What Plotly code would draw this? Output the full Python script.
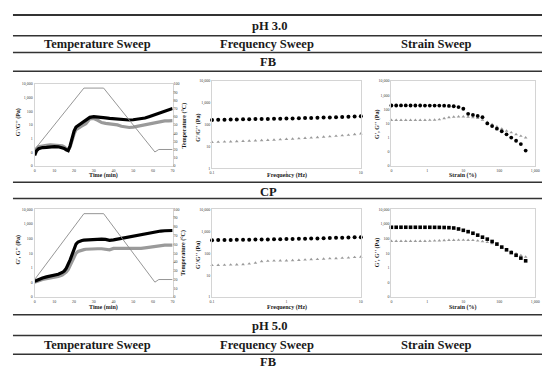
import plotly.graph_objects as go

W, H = 550, 369

# ---------------- data ----------------
time_min = [0, 1, 2, 4, 6, 8, 10, 12, 14, 15, 16, 17, 18, 19, 20, 21, 22, 23, 24, 25, 26, 28, 30,
            32, 34, 36, 38, 40, 42, 44, 46, 48, 50, 52, 54, 56, 58, 60, 62, 64, 66, 68, 70]
fb_temp_Gp = [0.06, 0.13, 0.18, 0.22, 0.23, 0.25, 0.26, 0.25, 0.22, 0.19, 0.15, 0.13, 0.3, 1.2, 3.5, 7,
              9, 11, 14, 18, 24, 36, 40, 39, 35, 33, 30, 28, 26, 24, 23, 23, 24, 26, 28, 32, 40, 50,
              62, 80, 100, 130, 160]
fb_temp_Gpp = [0.09, 0.18, 0.25, 0.3, 0.32, 0.34, 0.34, 0.33, 0.3, 0.25, 0.18, 0.14, 0.25, 0.9, 2.2, 4.5,
               6, 7, 8.5, 10, 12, 28, 30, 22, 15, 13, 12, 11, 10, 8, 7, 6.5, 7, 8, 10, 11, 13, 15, 17,
               19, 20, 20, 21]
cp_temp_Gp = [0.12, 0.14, 0.16, 0.2, 0.24, 0.27, 0.3, 0.36, 0.48, 0.6, 0.9, 1.6, 3.5, 8, 20, 42, 58,
              68, 74, 78, 80, 84, 86, 88, 90, 88, 76, 82, 92, 100, 115, 130, 150, 170, 195, 220, 245,
              270, 300, 325, 340, 350, 355]
cp_temp_Gpp = [0.105, 0.12, 0.13, 0.16, 0.18, 0.2, 0.22, 0.26, 0.32, 0.38, 0.5, 0.75, 1.4, 2.8, 6, 10,
               13, 15, 16.5, 17.5, 18.5, 19.5, 20, 20, 20, 19, 17, 21, 21, 20, 19.5, 19, 19, 19.5, 21,
               23, 25, 28, 31, 34, 35, 35, 35]
temp_time = [0, 25, 35, 61, 63, 70]
temp_profile = [20, 95, 95, 17, 20, 20]

freq_hz = [0.1, 0.121, 0.147, 0.178, 0.215, 0.261, 0.316, 0.383, 0.464, 0.562, 0.681, 0.825, 1,
           1.21, 1.47, 1.78, 2.15, 2.61, 3.16, 3.83, 4.64, 5.62, 6.81, 8.25, 10]
fb_freq_Gp = [165, 167, 170, 172, 174, 176, 178, 180, 182, 184, 186, 189, 191, 194, 197, 200, 203,
              207, 211, 215, 220, 225, 230, 237, 245]
fb_freq_Gpp = [15.8, 16.1, 16.5, 16.8, 17.2, 17.6, 18.0, 18.5, 19.0, 19.6, 20.2, 20.9, 21.6, 22.4,
               23.3, 24.2, 25.2, 26.3, 27.5, 28.8, 30.2, 31.8, 33.5, 36, 39]
cp_freq_Gp = [390, 395, 398, 400, 405, 410, 413, 416, 420, 425, 430, 435, 440, 445, 450, 458, 465,
              472, 480, 490, 500, 510, 518, 527, 535]
cp_freq_Gpp = [28, 28.5, 29, 29.5, 30, 31, 33, 36, 42, 44, 45, 46, 46, 47, 48, 50, 52, 53, 55, 57,
               58, 60, 62, 65, 68]

strain_pct = [0.1, 0.136, 0.185, 0.251, 0.341, 0.464, 0.631, 0.858, 1.17, 1.59, 2.15, 2.93, 3.98,
              5.41, 7.36, 10.0, 13.6, 18.5, 25.1, 34.1, 46.4, 63.1, 85.8, 117, 159, 215, 293, 398, 541]
fb_strain_Gp = [186, 186, 187, 187, 186, 186, 186, 185, 185, 184, 183, 180, 175, 165, 145, 110, 48,
                40, 34, 28, 10, 6.5, 4.3, 2.8, 1.7, 1.0, 0.6, 0.35, 0.12]
fb_strain_Gpp = [17, 17, 17, 17, 17, 17, 17, 17, 17.5, 18, 19, 23, 27, 29, 30, 30, 29, 27, 24, 18,
                 12.5, 8.5, 6, 4.2, 3, 2.3, 1.7, 1.3, 1.0]
cp_strain_Gp = [590, 590, 592, 592, 590, 590, 590, 588, 588, 585, 580, 570, 555, 525, 450, 365, 295,
                230, 170, 124, 91, 63, 42, 26, 17, 11, 7.2, 4.6, 3.0]
cp_strain_Gpp = [66, 66, 66, 66, 66, 66, 66, 67, 68, 70, 72, 75, 77, 78, 79, 79, 78, 76, 70, 64, 56,
                 46, 35, 26, 18, 12.6, 9.3, 7.2, 5.6]

log_ticks6 = [0.01, 0.1, 1, 10, 100, 1000, 10000]
log_text6 = ["0", "0", "1", "10", "100", "1,000", "10,000"]
log_ticks4 = [1, 10, 100, 1000, 10000]
log_text4 = ["1", "10", "100", "1,000", "10,000"]
freq_ticks = [0.1, 1, 10]
freq_text = ["0.1", "1", "10"]
strain_ticks = [0.1, 1, 10, 100, 1000]
strain_text = ["0", "1", "10", "100", "1,000"]
time_ticks = [0, 10, 20, 30, 40, 50, 60, 70]
temp_ticks = [0, 10, 20, 30, 40, 50, 60, 70, 80, 90, 100]

# ---------------- helpers ----------------
def px(x): return x / W
def py(y): return 1 - y / H

SERIF = "Liberation Serif"
BLACK = "#000000"
GREY = "#9a9a9a"
TFONT = dict(family=SERIF, size=4, color="#404040")

fig = go.Figure()

def line(x, y, xa, ya, color, width):
    fig.add_trace(go.Scatter(x=x, y=y, xaxis=xa, yaxis=ya, mode="lines",
                             line=dict(color=color, width=width), showlegend=False, hoverinfo="skip"))

def pts(x, y, xa, ya, color, symbol, size):
    fig.add_trace(go.Scatter(x=x, y=y, xaxis=xa, yaxis=ya, mode="markers", cliponaxis=False,
                             marker=dict(color=color, symbol=symbol, size=size, line=dict(width=0)),
                             showlegend=False, hoverinfo="skip"))

# chart 1: pH 3 FB temperature
line(temp_time, temp_profile, "x", "y7", "#8a8a8a", 0.9)
line(time_min, fb_temp_Gpp, "x", "y", GREY, 3.2)
line(time_min, fb_temp_Gp, "x", "y", BLACK, 3.2)
# chart 2: frequency
pts(freq_hz, fb_freq_Gp, "x2", "y2", BLACK, "circle", 4)
pts(freq_hz, fb_freq_Gpp, "x2", "y2", GREY, "triangle-up", 3.2)
# chart 3: strain
pts(strain_pct, fb_strain_Gpp, "x3", "y3", GREY, "triangle-up", 3.2)
pts(strain_pct, fb_strain_Gp, "x3", "y3", BLACK, "circle", 3.8)
# chart 4: CP temperature
line(temp_time, temp_profile, "x4", "y8", "#8a8a8a", 0.9)
line(time_min, cp_temp_Gpp, "x4", "y4", GREY, 3.2)
line(time_min, cp_temp_Gp, "x4", "y4", BLACK, 3.2)
# chart 5
pts(freq_hz, cp_freq_Gp, "x5", "y5", BLACK, "circle", 4)
pts(freq_hz, cp_freq_Gpp, "x5", "y5", GREY, "triangle-up", 3.2)
# chart 6
pts(strain_pct, cp_strain_Gpp, "x6", "y6", GREY, "triangle-up", 3.2)
pts(strain_pct, cp_strain_Gp, "x6", "y6", BLACK, "square", 3.6)

AX = dict(showline=True, linecolor="#d4d4d4", linewidth=1, mirror=True, showgrid=False,
          zeroline=False, ticks="", tickfont=TFONT, fixedrange=True)

boxes = {
    1: (24, 164, 74, 157), 2: (204, 355, 71, 159.5), 3: (386, 532, 71, 157),
    4: (24, 164, 201, 290), 5: (204, 355, 201, 290), 6: (386, 532, 201, 290),
}
layout = {}
for i, (x0, x1, y0, y1) in boxes.items():
    xs = "xaxis" if i == 1 else f"xaxis{i}"
    ys = "yaxis" if i == 1 else f"yaxis{i}"
    xa = dict(AX, domain=[px(x0), px(x1)], anchor="y" if i == 1 else f"y{i}")
    ya = dict(AX, domain=[py(y1), py(y0)], anchor="x" if i == 1 else f"x{i}", type="log")
    if i in (1, 4):
        xa.update(range=[0, 70], tickvals=time_ticks)
    elif i in (2, 5):
        xa.update(type="log", range=[-1, 1], tickvals=freq_ticks, ticktext=freq_text)
    else:
        xa.update(type="log", range=[-1, 3], tickvals=strain_ticks, ticktext=strain_text)
    if i in (2, 5):
        ya.update(range=[0, 4], tickvals=log_ticks4, ticktext=log_text4)
    else:
        ya.update(range=[-2, 4], tickvals=log_ticks6, ticktext=log_text6)
    layout[xs] = xa
    layout[ys] = ya

layout["yaxis7"] = dict(overlaying="y", anchor="x", side="right", range=[0, 100],
                        tickvals=temp_ticks, showline=False, showgrid=False, zeroline=False,
                        ticks="", tickfont=TFONT, fixedrange=True)
layout["yaxis8"] = dict(overlaying="y4", anchor="x4", side="right", range=[0, 100],
                        tickvals=temp_ticks, showline=False, showgrid=False, zeroline=False,
                        ticks="", tickfont=TFONT, fixedrange=True)

fig.update_layout(width=W, height=H, margin=dict(l=0, r=0, t=0, b=0),
                  paper_bgcolor="white", plot_bgcolor="white", showlegend=False, **layout)

ann = []
def text(x, y, s, size, angle=0, color="#1a1a1a"):
    ann.append(dict(x=px(x), y=py(y), xref="paper", yref="paper", text=s, showarrow=False,
                    textangle=angle, xanchor="center", yanchor="middle", borderpad=0,
                    font=dict(family=SERIF, size=size, color=color)))

HS = 12.5
# table headings
text(262, 15, "<b>pH 3.0</b>", HS)
text(88, 33.5, "<b>Temperature Sweep</b>", HS)
text(260, 33.5, "<b>Frequency Sweep</b>", HS)
text(432, 33.5, "<b>Strain Sweep</b>", HS)
text(261, 51.5, "<b>FB</b>", HS)
text(261, 183, "<b>CP</b>", HS)
text(262, 319, "<b>pH 5.0</b>", HS)
text(88, 338.5, "<b>Temperature Sweep</b>", HS)
text(260, 338.5, "<b>Frequency Sweep</b>", HS)
text(432, 338.5, "<b>Strain Sweep</b>", HS)
text(261, 356, "<b>FB</b>", HS)

AS = 6
# axis titles, row 1
text(94, 167, "<b>Time (min)</b>", AS)
text(8, 113, "<b>G'/G'' (Pa)</b>", AS, -90)
text(175.5, 116, "<b>Temperature (°C)</b>", AS, -90)
text(280, 166.5, "<b>Frequency (Hz)</b>", AS)
text(190, 118, "<b>G'/G'' (Pa)</b>", AS, -90)
text(459, 167, "<b>Strain (%)</b>", AS)
text(372, 115, "<b>G', G'' (Pa)</b>", AS, -90)
# row 2
text(94, 300.5, "<b>Time (min)</b>", AS)
text(8, 242, "<b>G', G'' (Pa)</b>", AS, -90)
text(175.5, 245, "<b>Temperature (°C)</b>", AS, -90)
text(280, 300.5, "<b>Frequency (Hz)</b>", AS)
text(190, 247, "<b>G'/G'' (Pa)</b>", AS, -90)
text(459, 300.5, "<b>Strain (%)</b>", AS)
text(372, 245, "<b>G', G'' (Pa)</b>", AS, -90)

shapes = []
for yy, wdt in [(4, 2), (25, 1.5), (42, 1.5), (61, 1.5), (173.5, 1.5), (190, 1.5),
                (308, 1.5), (329, 1.5), (348, 1.5), (364, 1.5)]:
    shapes.append(dict(type="line", xref="paper", yref="paper", x0=px(2), x1=px(548),
                       y0=py(yy), y1=py(yy), line=dict(color="#333333", width=wdt)))

fig.update_layout(annotations=ann, shapes=shapes)
fig.write_html("out.html")
